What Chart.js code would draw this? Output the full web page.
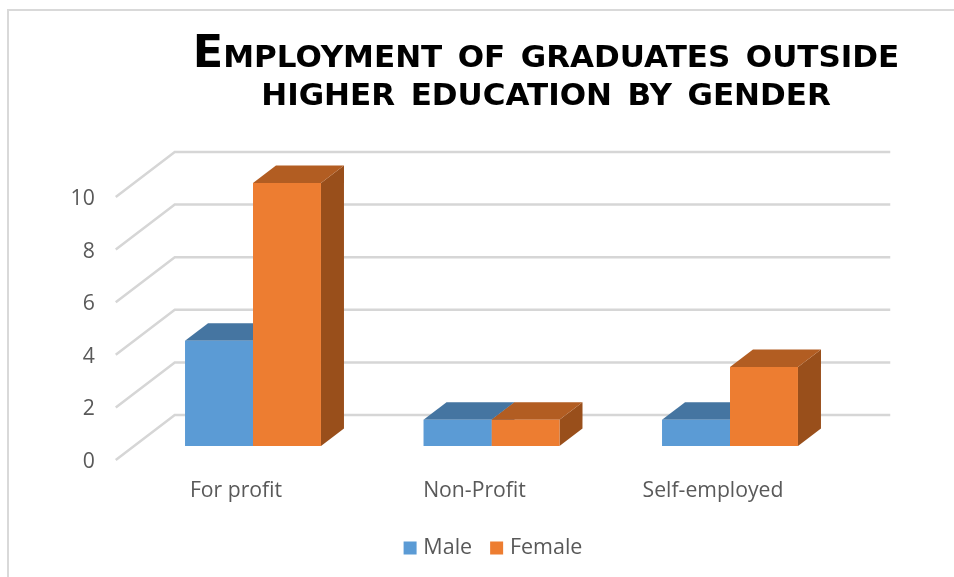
<!DOCTYPE html>
<html>
<head>
<meta charset="utf-8">
<style>
html,body{margin:0;padding:0;background:#fff;overflow:hidden}
#wrap{position:relative;width:954px;height:577px}
#frame{position:absolute;left:7px;top:9px;right:0;bottom:0;border-left:2px solid #d9d9d9;border-top:2px solid #d9d9d9}
canvas{position:absolute;left:0;top:0}
</style>
<script src="https://cdn.jsdelivr.net/npm/chart.js@4"></script>
</head>
<body>
<div id="wrap"><div id="frame"></div><canvas id="c" width="954" height="577"></canvas></div>
<script>
const categories = ['For profit', 'Non-Profit', 'Self-employed'];
const male = [4, 1, 1];
const female = [10, 1, 3];
const seriesNames = ['Male', 'Female'];
const titleLines = ['Employment of graduates outside', 'higher education by gender'];
const frontColors = ['#5B9BD5', '#ED7D31'];
const topColors = ['#4575A1', '#B25D22'];
const sideColors = ['#3E6A92', '#994F1B'];
const textColor = '#595959';
const gridColor = '#d6d6d6';
const uiFont = '"Open Sans", sans-serif';

const BAR_DX = 23, BAR_DY = 17.5;
const WALL_FRONT_X = -18, WALL_FRONT_DY = 14, WALL_BACK_X = 41, WALL_BACK_DY = -31, WALL_RIGHT = 41;

function poly(ctx, pts, color) {
  ctx.fillStyle = color;
  ctx.beginPath();
  pts.forEach((p, i) => i ? ctx.lineTo(p[0], p[1]) : ctx.moveTo(p[0], p[1]));
  ctx.closePath();
  ctx.fill();
}

const threeD = {
  id: 'threeD',
  afterLayout(chart) {
    const t = chart.titleBlock, l = chart.legend;
    t.left = 146; t.right = 946;
    l.left = 95; l.right = 895;
  },
  beforeDatasetsDraw(chart) {
    const ctx = chart.ctx, y = chart.scales.y, a = chart.chartArea;
    ctx.save();
    ctx.strokeStyle = gridColor;
    ctx.lineWidth = 2.5;
    ctx.lineJoin = 'miter';
    y.ticks.forEach(t => {
      const p = y.getPixelForValue(t.value);
      ctx.beginPath();
      ctx.moveTo(a.left + WALL_FRONT_X, p + WALL_FRONT_DY);
      ctx.lineTo(a.left + WALL_BACK_X, p + WALL_BACK_DY);
      ctx.lineTo(a.right + WALL_RIGHT, p + WALL_BACK_DY);
      ctx.stroke();
    });
    chart.data.datasets.forEach((ds, i) => {
      chart.getDatasetMeta(i).data.forEach(el => {
        const b = el.getProps(['x', 'y', 'base', 'width'], true);
        const L = b.x - b.width / 2, R = b.x + b.width / 2;
        poly(ctx, [[R, b.y], [R + BAR_DX, b.y - BAR_DY], [R + BAR_DX, b.base - BAR_DY], [R, b.base]], sideColors[i]);
        poly(ctx, [[L, b.y], [L + BAR_DX, b.y - BAR_DY], [R + BAR_DX, b.y - BAR_DY], [R, b.y]], topColors[i]);
      });
    });
    ctx.restore();
  }
};

new Chart(document.getElementById('c'), {
  type: 'bar',
  data: {
    labels: categories,
    datasets: [
      { label: seriesNames[0], data: male, backgroundColor: frontColors[0] },
      { label: seriesNames[1], data: female, backgroundColor: frontColors[1] }
    ]
  },
  options: {
    responsive: false,
    animation: false,
    layout: { padding: { left: 0, right: 104.75, top: 0, bottom: 8.25 } },
    datasets: { bar: { categoryPercentage: 0.57, barPercentage: 1, borderWidth: 0 } },
    plugins: {
      tooltip: { enabled: false },
      title: {
        display: true,
        text: titleLines,
        color: '#000',
        padding: { top: 36, bottom: 71 },
        font: { family: '"DejaVu Sans", sans-serif', weight: 'small-caps bold', size: 44.6, lineHeight: 0.852 }
      },
      legend: {
        position: 'bottom',
        labels: {
          color: textColor, usePointStyle: true, pointStyle: 'rect',
          boxWidth: 5, boxHeight: 13, padding: 22,
          font: { family: uiFont, size: 21.5 }
        }
      }
    },
    scales: {
      x: {
        border: { display: false },
        grid: { display: false, drawTicks: false },
        afterFit(s) { s.height = 69.25; },
        ticks: { color: textColor, padding: 32, labelOffset: -17, maxRotation: 0, font: { family: uiFont, size: 21.2 } }
      },
      y: {
        min: 0, max: 10,
        border: { display: false },
        grid: { display: false, drawTicks: false },
        afterFit(s) { s.width = 133.75; },
        ticks: { color: textColor, stepSize: 2, padding: 39, labelOffset: 16, font: { family: uiFont, size: 21.2 } }
      }
    }
  },
  plugins: [threeD]
});
</script>
</body>
</html>
